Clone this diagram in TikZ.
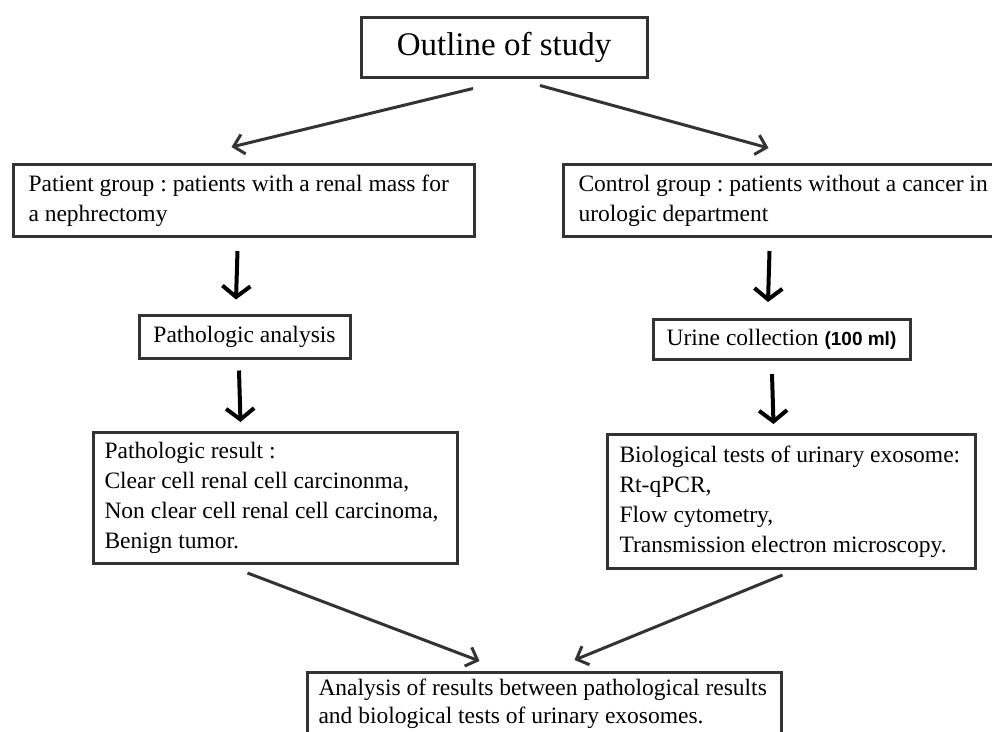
\documentclass[tikz,border=0pt]{standalone}
\usepackage{fontspec}
\setmainfont{Liberation Serif}
\newfontfamily\labelsans{Liberation Sans}
\usetikzlibrary{arrows.meta}

\begin{document}
\begin{tikzpicture}[x=1pt, y=-1pt,
		box/.style={draw=black!80, line width=3pt, fill=white, inner ysep=0pt,
			font=\fontsize{23.5}{30}\selectfont\frenchspacing},
		leftbox/.style={box, anchor=north west, align=flush left},
		slant/.style={draw=black!80, line width=3pt, -{Straight Barb[length=10pt, width=20pt]}},
		down/.style={draw=black, line width=4pt, -{Straight Barb[length=11pt, width=28pt]}}]
	\useasboundingbox (0,0) rectangle (992,731);

	\node[box, minimum width=286, minimum height=60, font=\fontsize{33}{36}\selectfont] (outline) at (504,47) {Outline of study};

	\node[leftbox, inner xsep=15pt, text width=431pt, minimum height=72] (patient) at (12,163)
		{\mbox{Patient group : patients with a renal mass for}\\a nephrectomy};
	\node[leftbox, inner xsep=15pt, text width=410pt, minimum height=72] (control) at (562,163)
		{\mbox{Control group : patients without a cancer in}\\urologic department};

	\node[box, minimum width=211, minimum height=43] (analysis) at (244.5,336.5) {Pathologic analysis};
	\node[box, minimum width=257, minimum height=40] (urine) at (781.5,339.5)
		{Urine collection {\labelsans\bfseries\fontsize{19}{22}\selectfont (100 ml)}};

	\node[leftbox, inner xsep=11pt, text width=342pt, minimum height=131] (result) at (92,431)
		{Pathologic result :\\\mbox{Clear cell renal cell carcinonma,}\\\mbox{Non clear cell renal cell carcinoma,}\\Benign tumor.};
	\node[leftbox, inner xsep=12pt, text width=344pt, minimum height=134] (tests) at (606,433)
		{\mbox{Biological tests of urinary exosome:}\\Rt-qPCR,\\Flow cytometry,\\\mbox{Transmission electron microscopy.}};

	\node[leftbox, inner xsep=11pt, text width=452pt, minimum height=62,
		font=\fontsize{23.5}{28.5}\selectfont\frenchspacing] (final) at (306,671)
		{\mbox{Analysis of results between pathological results}\\\mbox{and biological tests of urinary exosomes.}};

	% top split
	\draw[slant] ([xshift=-31pt, yshift=-10pt]outline.south) -- ([xshift=-12.5pt, yshift=16pt]patient.north);
	\draw[slant] ([xshift=36pt, yshift=-7pt]outline.south) -- ([xshift=-15pt, yshift=15pt]control.north);

	% the two columns
	\draw[down] ([xshift=-6.5pt, yshift=-13pt]patient.south) -- ([xshift=-8.5pt, yshift=14pt]analysis.north);
	\draw[down] ([xshift=-5.5pt, yshift=-11pt]analysis.south) -- ([xshift=-35pt, yshift=9pt]result.north);
	\draw[down] ([xshift=-14pt, yshift=-13pt]control.south) -- ([xshift=-13.5pt, yshift=16pt]urine.north);
	\draw[down] ([xshift=-9.5pt, yshift=-13pt]urine.south) -- ([xshift=-18pt, yshift=9pt]tests.north);

	% join
	\draw[slant] ([xshift=-28pt, yshift=-8pt]result.south) -- ([xshift=-65pt, yshift=10pt]final.north);
	\draw[slant] ([xshift=-9pt, yshift=-5pt]tests.south) -- ([xshift=30pt, yshift=11pt]final.north);
\end{tikzpicture}
\end{document}
